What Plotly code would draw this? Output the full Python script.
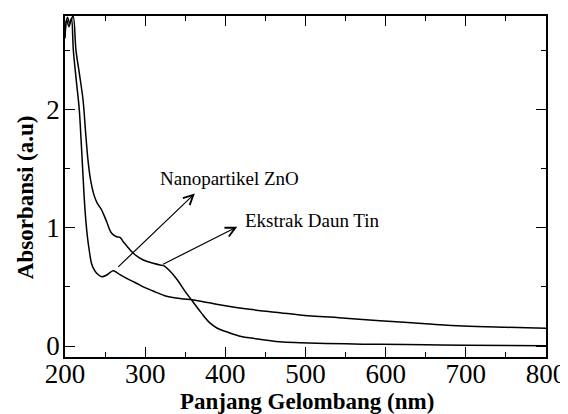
import plotly.graph_objects as go

# Wavelength (nm) and absorbance (a.u.)
zno_wl = [200, 202, 205, 208, 210.4, 214, 217.8, 220, 222.8, 224, 226, 228, 230, 233, 236,
          239.5, 245.7, 252, 256, 260, 264, 268, 277, 288, 297.6, 310, 326.8, 345, 360,
          380, 400, 430, 468, 493, 550, 592.8, 650, 696.6, 750, 800]
zno_abs = [2.6, 2.76, 2.70, 2.77, 2.5, 2.25, 2.0, 1.75, 1.40, 1.25, 1.06, 0.92, 0.82, 0.70, 0.65,
           0.615, 0.586, 0.60, 0.62, 0.636, 0.625, 0.605, 0.572, 0.535, 0.50, 0.465, 0.42, 0.40, 0.389,
           0.365, 0.34, 0.31, 0.282, 0.262, 0.235, 0.214, 0.188, 0.169, 0.158, 0.15]

ext_wl = [200, 203, 206, 210, 213.7, 218, 222.5, 226, 229, 232, 236, 240, 245.7, 252, 258.2,
          264.4, 268.6, 272.7, 285.2, 297.6, 310, 318.5, 323, 330, 340, 350, 360, 370, 380,
          390, 401.6, 420, 434.8, 468, 493, 550, 592.8, 650, 700, 800]
ext_abs = [2.62, 2.78, 2.73, 2.79, 2.5, 2.3, 2.08, 1.78, 1.55, 1.40, 1.28, 1.21, 1.15, 1.05, 0.953,
           0.924, 0.919, 0.882, 0.784, 0.727, 0.699, 0.685, 0.68, 0.64, 0.56, 0.46, 0.37, 0.28, 0.20,
           0.15, 0.12, 0.08, 0.065, 0.036, 0.028, 0.018, 0.014, 0.01, 0.007, 0.003]

x_ticks = [200, 300, 400, 500, 600, 700, 800]
y_ticks = [0, 1, 2]

labels = ["Nanopartikel ZnO", "Ekstrak Daun Tin"]
# arrow tail (on curve) and head positions, text anchor positions in data units
arrow_tail = [(264.5, 0.657), (320.5, 0.685)]
arrow_head = [(362, 1.29), (414.9, 1.008)]
label_pos = [(316.3, 1.418), (422.3, 1.065)]

x_title = "Panjang Gelombang (nm)"
y_title = "Absorbansi (a.u)"

FONT = "Liberation Serif, Times New Roman, Times, serif"

fig = go.Figure()
fig.add_trace(go.Scatter(x=zno_wl, y=zno_abs, mode="lines", line=dict(color="black", width=1.5),
                         line_shape="spline", showlegend=False))
fig.add_trace(go.Scatter(x=ext_wl, y=ext_abs, mode="lines", line=dict(color="black", width=1.5),
                         line_shape="spline", showlegend=False))

for (tx, ty), (hx, hy) in zip(arrow_tail, arrow_head):
    fig.add_annotation(x=hx, y=hy, ax=tx, ay=ty, xref="x", yref="y", axref="x", ayref="y",
                       text="", showarrow=True, arrowhead=5, arrowsize=1.6, arrowwidth=1.2,
                       arrowcolor="black", standoff=0, startstandoff=0)
for lab, (lx, ly) in zip(labels, label_pos):
    fig.add_annotation(x=lx, y=ly, xref="x", yref="y", text=lab, showarrow=False,
                       xanchor="left", yanchor="middle",
                       font=dict(family=FONT, size=19, color="black"))

# axis titles placed as paper annotations
fig.add_annotation(x=0.504, y=-0.13, xref="paper", yref="paper", text=f"<b>{x_title}</b>",
                   showarrow=False, xanchor="center", yanchor="middle",
                   font=dict(family=FONT, size=23, color="black"))
fig.add_annotation(x=-0.083, y=0.469, xref="paper", yref="paper", text=f"<b>{y_title}</b>",
                   showarrow=False, xanchor="center", yanchor="middle", textangle=-90,
                   font=dict(family=FONT, size=23, color="black"))

axis_common = dict(showline=True, linecolor="black", linewidth=1.6, mirror="ticks",
                   ticks="inside", ticklen=10, tickwidth=1.3, tickcolor="black",
                   showgrid=False, zeroline=False, automargin=False,
                   tickfont=dict(family=FONT, size=27, color="black"))

fig.update_xaxes(range=[200, 800], tickvals=x_ticks, ticktext=[str(v) for v in x_ticks],
                 ticklabelstandoff=-8,
                 minor=dict(dtick=50, tick0=200, ticks="inside", ticklen=5, tickwidth=1.3,
                            tickcolor="black", showgrid=False),
                 **axis_common)
fig.update_yaxes(range=[-0.093, 2.79], tickvals=y_ticks, ticktext=[str(v) for v in y_ticks],
                 ticklabelstandoff=-2,
                 minor=dict(dtick=0.5, tick0=0, ticks="inside", ticklen=5, tickwidth=1.3,
                            tickcolor="black", showgrid=False),
                 **axis_common)

# The page body has an 8px default margin, so the figure is 8px smaller and margins are shifted.
fig.update_layout(width=560, height=406, margin=dict(l=57, r=22, t=8, b=57),
                  plot_bgcolor="white", paper_bgcolor="white",
                  font=dict(family=FONT, color="black"))

fig.write_html("out.html")
